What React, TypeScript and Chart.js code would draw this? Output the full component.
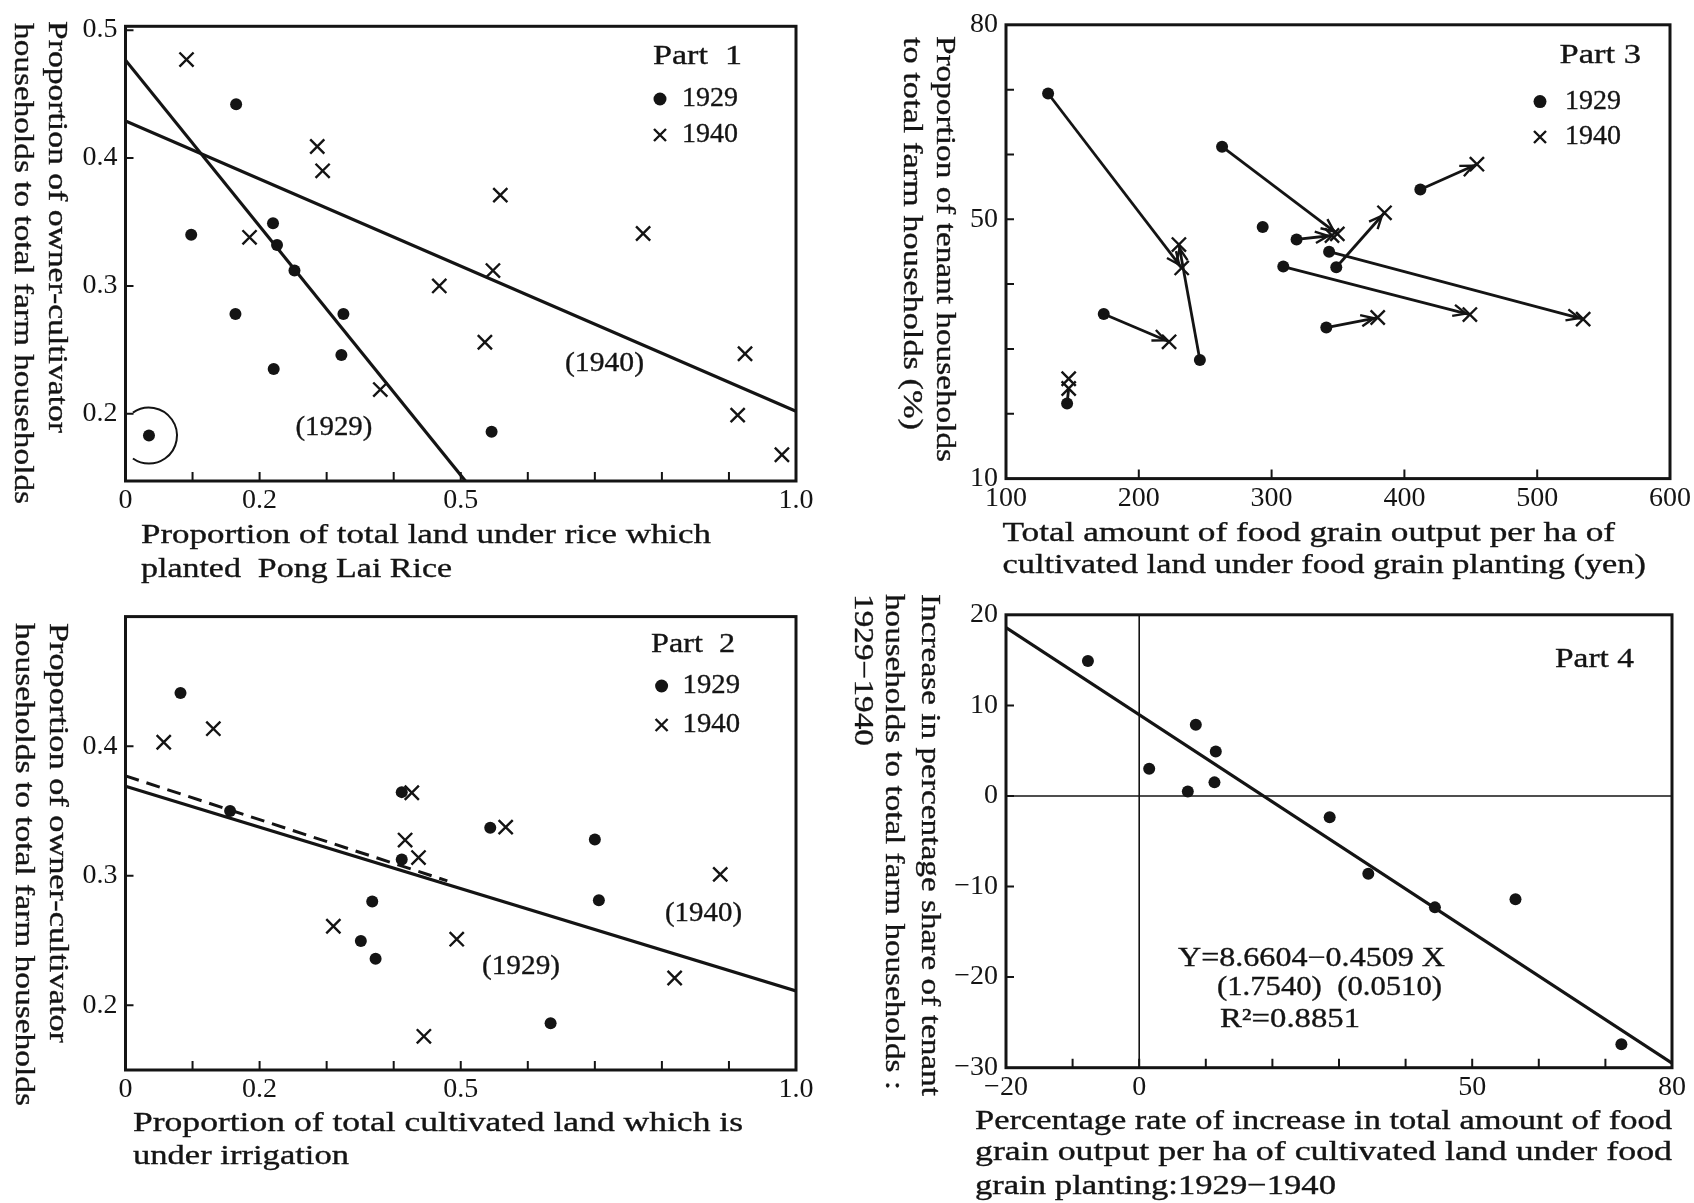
import React, { useEffect, useRef } from 'react';
import { Chart, registerables } from 'chart.js';

Chart.register(...registerables);

// ---------------- Part 1 data ----------------
const p1X1929 = [0.035, 0.098, 0.165, 0.164, 0.220, 0.226, 0.252, 0.325, 0.322, 0.221, 0.546];
const p1Y1929 = [0.183, 0.340, 0.442, 0.278, 0.349, 0.332, 0.312, 0.278, 0.246, 0.235, 0.186];
const p1X1940 = [0.091, 0.286, 0.294, 0.185, 0.559, 0.772, 0.468, 0.548, 0.536, 0.380, 0.924, 0.913, 0.979];
const p1Y1940 = [0.477, 0.409, 0.390, 0.338, 0.371, 0.341, 0.300, 0.312, 0.256, 0.219, 0.247, 0.199, 0.168];
const p1Fit1929X = [0, 0.507];
const p1Fit1929Y = [0.4765, 0.1475];
const p1Fit1940X = [0, 1];
const p1Fit1940Y = [0.429, 0.202];
const p1XTicks = [0, 0.1, 0.2, 0.3, 0.4, 0.5, 0.6, 0.7, 0.8, 0.9, 1.0];
const p1XLabels = ['0', '', '0.2', '', '', '0.5', '', '', '', '', '1.0'];
const p1YTicks = [0.2, 0.3, 0.4, 0.5];
const p1YLabels = ['0.2', '0.3', '0.4', '0.5'];

// ---------------- Part 2 data ----------------
const p2X1929 = [0.082, 0.156, 0.412, 0.412, 0.368, 0.351, 0.373, 0.544, 0.700, 0.706, 0.634];
const p2Y1929 = [0.441, 0.350, 0.3645, 0.3125, 0.280, 0.2496, 0.2358, 0.337, 0.328, 0.281, 0.186];
const p2X1940 = [0.057, 0.131, 0.427, 0.417, 0.437, 0.567, 0.310, 0.494, 0.887, 0.819, 0.445];
const p2Y1940 = [0.403, 0.4135, 0.364, 0.3275, 0.314, 0.3375, 0.261, 0.251, 0.301, 0.221, 0.176];
const p2FitSolidX = [0, 1];
const p2FitSolidY = [0.369, 0.211];
const p2FitDashedX = [0, 0.48];
const p2FitDashedY = [0.377, 0.296];
const p2XTicks = [0, 0.1, 0.2, 0.3, 0.4, 0.5, 0.6, 0.7, 0.8, 0.9, 1.0];
const p2XLabels = ['0', '', '0.2', '', '', '0.5', '', '', '', '', '1.0'];
const p2YTicks = [0.2, 0.3, 0.4];
const p2YLabels = ['0.2', '0.3', '0.4'];

// ---------------- Part 3 data ----------------
const p3X1929 = [131.7, 246.0, 262.7, 293.3, 318.8, 343.3, 348.7, 308.8, 341.2, 173.6, 146.0, 412.0];
const p3Y1929 = [69.4, 28.3, 61.2, 48.8, 46.9, 45.0, 42.6, 42.7, 33.3, 35.4, 21.6, 54.6];
const p3X1940 = [232.3, 230.2, 349.5, 345.5, 534.6, 385.0, 449.3, 379.9, 222.8, 147.2, 147.2, 454.6];
const p3Y1940 = [42.5, 46.1, 47.75, 47.5, 34.6, 51.0, 35.3, 34.85, 31.1, 25.4, 23.9, 58.5];
// links: [index in 1929 list, index in 1940 list]
const p3LinkFrom = [0, 1, 2, 4, 5, 6, 7, 8, 9, 10, 11];
const p3LinkTo = [0, 1, 2, 3, 4, 5, 6, 7, 8, 10, 11];
const p3XTicks = [100, 200, 300, 400, 500, 600];
const p3XLabels = ['100', '200', '300', '400', '500', '600'];
const p3YTicks = [10, 20, 30, 40, 50, 60, 70, 80];
const p3YLabels = ['10', '', '', '', '50', '', '', '80'];

// ---------------- Part 4 data ----------------
const p4X = [-7.7, 1.5, 7.3, 8.5, 11.5, 11.3, 28.6, 34.4, 44.4, 56.5, 72.4];
const p4Y = [14.9, 3.0, 0.5, 7.85, 4.9, 1.5, -2.35, -8.6, -12.3, -11.4, -27.4];
const p4FitX = [-20, 80];
const p4FitY = [18.6, -29.5];
const p4ZeroHX = [-20, 80];
const p4ZeroHY = [0, 0];
const p4ZeroVX = [0, 0];
const p4ZeroVY = [-30, 20];
const p4XTicks = [-20, -10, 0, 10, 20, 30, 40, 50, 60, 70, 80];
const p4XLabels = ['\u221220', '', '0', '', '', '', '', '50', '', '', '80'];
const p4YTicks = [-30, -20, -10, 0, 10, 20];
const p4YLabels = ['\u221230', '\u221220', '\u221210', '0', '10', '20'];

// ---------------- styling ----------------
const INK = '#141414';
const FONT = '"Liberation Serif", "Times New Roman", serif';
const Y_AXIS_W = 70;
const X_AXIS_H = 45;

const zip = (xs: number[], ys: number[]) => xs.map((x, i) => ({ x, y: ys[i] }));

const dotSet = (data: any[]) => ({
  data,
  pointStyle: 'circle',
  pointRadius: 6,
  backgroundColor: INK,
  borderColor: INK,
  borderWidth: 0,
  showLine: false,
});
const crossSet = (data: any[]) => ({
  data,
  pointStyle: 'crossRot',
  pointRadius: 10,
  borderColor: INK,
  backgroundColor: INK,
  borderWidth: 2.4,
  showLine: false,
});
const lineSet = (data: any[], width = 3.2, dash: number[] = []) => ({
  data,
  showLine: true,
  pointRadius: 0,
  borderColor: INK,
  backgroundColor: INK,
  borderWidth: width,
  borderDash: dash,
  fill: false,
  tension: 0,
});

function fitText(ctx: CanvasRenderingContext2D, t: string, x0: number, x1: number, y: number, size: number) {
  ctx.save();
  ctx.font = `${size}px ${FONT}`;
  ctx.textBaseline = 'middle';
  ctx.textAlign = 'left';
  ctx.fillStyle = INK;
  ctx.strokeStyle = INK;
  ctx.lineWidth = 0.35;
  const w = ctx.measureText(t).width;
  const s = (x1 - x0) / w;
  ctx.translate(x0, y);
  ctx.scale(s, 1);
  ctx.fillText(t, 0, 0);
  ctx.strokeText(t, 0, 0);
  ctx.restore();
}

function drawCross(ctx: CanvasRenderingContext2D, x: number, y: number, r: number) {
  ctx.beginPath();
  ctx.moveTo(x - r, y - r);
  ctx.lineTo(x + r, y + r);
  ctx.moveTo(x - r, y + r);
  ctx.lineTo(x + r, y - r);
  ctx.stroke();
}

function panelPlugin(p: any) {
  return {
    id: 'panelDecor' + p.id,
    afterDatasetsDraw(chart: any) {
      const ctx: CanvasRenderingContext2D = chart.ctx;
      const xs = chart.scales.x;
      const ys = chart.scales.y;
      ctx.save();
      ctx.strokeStyle = INK;
      ctx.fillStyle = INK;
      if (p.circle) {
        const cx = xs.getPixelForValue(p.circle.x);
        const cy = ys.getPixelForValue(p.circle.y);
        ctx.lineWidth = 2;
        ctx.beginPath();
        ctx.arc(cx, cy, 28, (-125 * Math.PI) / 180, (125 * Math.PI) / 180);
        ctx.stroke();
      }
      if (p.arrows) {
        ctx.lineWidth = 2.4;
        for (const a of p.arrows) {
          const x0 = xs.getPixelForValue(a.from.x);
          const y0 = ys.getPixelForValue(a.from.y);
          const x1 = xs.getPixelForValue(a.to.x);
          const y1 = ys.getPixelForValue(a.to.y);
          const dx = x1 - x0;
          const dy = y1 - y0;
          const len = Math.hypot(dx, dy);
          if (len < 30) continue;
          const ux = dx / len;
          const uy = dy / len;
          const tx = x1 - ux * 4;
          const ty = y1 - uy * 4;
          const L = 14;
          const ang = (24 * Math.PI) / 180;
          ctx.beginPath();
          for (const sgn of [1, -1]) {
            const c = Math.cos(sgn * ang);
            const s = Math.sin(sgn * ang);
            const wx = -(ux * c - uy * s);
            const wy = -(ux * s + uy * c);
            ctx.moveTo(tx, ty);
            ctx.lineTo(tx + wx * L, ty + wy * L);
          }
          ctx.stroke();
        }
      }
      ctx.restore();
    },
    afterDraw(chart: any) {
      const ctx: CanvasRenderingContext2D = chart.ctx;
      const a = chart.chartArea;
      const xs = chart.scales.x;
      const ys = chart.scales.y;
      ctx.save();
      ctx.strokeStyle = INK;
      ctx.fillStyle = INK;
      // inward tick marks
      ctx.lineWidth = 2;
      ctx.beginPath();
      for (const v of p.xTicks) {
        const px = xs.getPixelForValue(v);
        if (Math.abs(px - a.left) < 3 || Math.abs(px - a.right) < 3) continue;
        ctx.moveTo(px, a.bottom);
        ctx.lineTo(px, a.bottom - 9);
      }
      for (const v of p.yTicks) {
        const py = ys.getPixelForValue(v);
        if (Math.abs(py - a.top) < 3 || Math.abs(py - a.bottom) < 3) continue;
        ctx.moveTo(a.left, py);
        ctx.lineTo(a.left + 8, py);
      }
      ctx.stroke();
      // frame
      ctx.lineWidth = 3;
      ctx.strokeRect(a.left, a.top, a.right - a.left, a.bottom - a.top);
      // texts
      for (const t of p.texts) {
        if (t.rot) {
          ctx.save();
          ctx.translate(t.cx - p.ox, t.y0 - p.oy);
          ctx.rotate(Math.PI / 2);
          fitText(ctx, t.t, 0, t.y1 - t.y0, 0, t.size || 28);
          ctx.restore();
        } else {
          fitText(ctx, t.t, t.x0 - p.ox, t.x1 - p.ox, t.y - p.oy, t.size || 28);
        }
      }
      // legend marks
      if (p.legendDot) {
        ctx.beginPath();
        ctx.arc(p.legendDot[0] - p.ox, p.legendDot[1] - p.oy, 6.5, 0, Math.PI * 2);
        ctx.fill();
      }
      if (p.legendCross) {
        ctx.lineWidth = 2.4;
        drawCross(ctx, p.legendCross[0] - p.ox, p.legendCross[1] - p.oy, 6);
      }
      ctx.restore();
    },
  };
}

function axisOpts(ticks: number[], labels: string[], min: number, max: number, dir: 'x' | 'y') {
  return {
    type: 'linear',
    min,
    max,
    position: dir === 'x' ? 'bottom' : 'left',
    grid: { display: false, drawTicks: false },
    border: { display: false },
    afterBuildTicks: (s: any) => {
      s.ticks = ticks.map((v) => ({ value: v }));
    },
    afterFit: (s: any) => {
      if (dir === 'x') s.height = X_AXIS_H;
      else s.width = Y_AXIS_W;
    },
    ticks: {
      autoSkip: false,
      maxRotation: 0,
      minRotation: 0,
      padding: dir === 'x' ? 3 : 8,
      color: INK,
      font: { family: FONT, size: 28 },
      callback: (_v: any, i: number) => labels[i],
    },
  };
}

const p1Dots = zip(p1X1929, p1Y1929);
const p3Dots = zip(p3X1929, p3Y1929);
const p3Crosses = zip(p3X1940, p3Y1940);
const p3Arrows = p3LinkFrom.map((f, i) => ({ from: p3Dots[f], to: p3Crosses[p3LinkTo[i]] }));

const PANELS: any[] = [
  {
    id: 1,
    ox: 0, oy: 0, w: 847, h: 590,
    plot: { L: 125.5, T: 26.3, R: 796, B: 481 },
    x: axisOpts(p1XTicks, p1XLabels, 0, 1, 'x'),
    y: axisOpts(p1YTicks, p1YLabels, 0.1475, 0.503, 'y'),
    xTicks: p1XTicks, yTicks: p1YTicks,
    datasets: [
      lineSet(zip(p1Fit1929X, p1Fit1929Y)),
      lineSet(zip(p1Fit1940X, p1Fit1940Y)),
      dotSet(p1Dots),
      crossSet(zip(p1X1940, p1Y1940)),
    ],
    circle: p1Dots[0],
    legendDot: [660, 99],
    legendCross: [660, 135],
    texts: [
      { rot: true, t: 'Proportion of owner-cultivator', cx: 56.5, y0: 21, y1: 433 },
      { rot: true, t: 'households to total farm households', cx: 22, y0: 23, y1: 504 },
      { t: 'Proportion of total land under rice which', x0: 141, x1: 711, y: 536 },
      { t: 'planted  Pong Lai Rice', x0: 141, x1: 452, y: 570 },
      { t: 'Part  1', x0: 653, x1: 742, y: 57 },
      { t: '1929', x0: 682, x1: 738, y: 99 },
      { t: '1940', x0: 682, x1: 738, y: 135 },
      { t: '(1929)', x0: 295.5, x1: 372.4, y: 428 },
      { t: '(1940)', x0: 565, x1: 644, y: 364 },
    ],
  },
  {
    id: 2,
    ox: 0, oy: 590, w: 847, h: 613,
    plot: { L: 125.5, T: 616.6, R: 796, B: 1070 },
    x: axisOpts(p2XTicks, p2XLabels, 0, 1, 'x'),
    y: axisOpts(p2YTicks, p2YLabels, 0.15, 0.5, 'y'),
    xTicks: p2XTicks, yTicks: p2YTicks,
    datasets: [
      lineSet(zip(p2FitSolidX, p2FitSolidY)),
      lineSet(zip(p2FitDashedX, p2FitDashedY), 3, [14, 8]),
      dotSet(zip(p2X1929, p2Y1929)),
      crossSet(zip(p2X1940, p2Y1940)),
    ],
    legendDot: [661.6, 686],
    legendCross: [661.6, 725],
    texts: [
      { rot: true, t: 'Proportion of owner-cultivator', cx: 57.5, y0: 623, y1: 1043 },
      { rot: true, t: 'households to total farm households', cx: 23.5, y0: 623, y1: 1106 },
      { t: 'Proportion of total cultivated land which is', x0: 133, x1: 743, y: 1124 },
      { t: 'under irrigation', x0: 133, x1: 349, y: 1157 },
      { t: 'Part  2', x0: 651, x1: 735, y: 645 },
      { t: '1929', x0: 682.5, x1: 740, y: 686 },
      { t: '1940', x0: 682.5, x1: 740, y: 725 },
      { t: '(1929)', x0: 482, x1: 560, y: 967 },
      { t: '(1940)', x0: 665, x1: 742, y: 914 },
    ],
  },
  {
    id: 3,
    ox: 847, oy: 0, w: 847, h: 590,
    plot: { L: 1006, T: 22.6, R: 1674, B: 478.6 },
    x: axisOpts(p3XTicks, p3XLabels, 100, 600, 'x'),
    y: axisOpts(p3YTicks, p3YLabels, 10, 80, 'y'),
    xTicks: p3XTicks, yTicks: p3YTicks,
    datasets: [
      ...p3Arrows.map((a) => lineSet([a.from, a.to], 2.8)),
      dotSet(p3Dots),
      crossSet(p3Crosses),
    ],
    arrows: p3Arrows,
    legendDot: [1540, 101.6],
    legendCross: [1540, 137],
    texts: [
      { rot: true, t: 'Proportion of tenant households', cx: 944, y0: 36, y1: 462 },
      { rot: true, t: 'to total farm households (%)', cx: 911, y0: 37, y1: 430 },
      { t: 'Total amount of food grain output per ha of', x0: 1002.5, x1: 1615, y: 534 },
      { t: 'cultivated land under food grain planting (yen)', x0: 1002.5, x1: 1646, y: 566 },
      { t: 'Part 3', x0: 1559.5, x1: 1641, y: 56 },
      { t: '1929', x0: 1565, x1: 1621, y: 101.6 },
      { t: '1940', x0: 1565, x1: 1621, y: 137 },
    ],
  },
  {
    id: 4,
    ox: 847, oy: 590, w: 847, h: 613,
    plot: { L: 1006, T: 614.6, R: 1672, B: 1067.7 },
    x: axisOpts(p4XTicks, p4XLabels, -20, 80, 'x'),
    y: axisOpts(p4YTicks, p4YLabels, -30, 20, 'y'),
    xTicks: p4XTicks, yTicks: p4YTicks,
    datasets: [
      lineSet(zip(p4ZeroHX, p4ZeroHY), 1.6),
      lineSet(zip(p4ZeroVX, p4ZeroVY), 1.6),
      lineSet(zip(p4FitX, p4FitY), 3.2),
      dotSet(zip(p4X, p4Y)),
    ],
    texts: [
      { rot: true, t: 'Increase in percentage share of tenant', cx: 929, y0: 594, y1: 1096 },
      { rot: true, t: 'households to total farm households :', cx: 893, y0: 594, y1: 1090 },
      { rot: true, t: '1929\u22121940', cx: 862, y0: 594, y1: 746 },
      { t: 'Percentage rate of increase in total amount of food', x0: 975, x1: 1672, y: 1122 },
      { t: 'grain output per ha of cultivated land under food', x0: 975, x1: 1672, y: 1153 },
      { t: 'grain planting:1929\u22121940', x0: 975, x1: 1336, y: 1187 },
      { t: 'Part 4', x0: 1555, x1: 1634, y: 660 },
      { t: 'Y=8.6604\u22120.4509 X', x0: 1178, x1: 1445, y: 959, size: 27 },
      { t: '(1.7540)  (0.0510)', x0: 1217, x1: 1442, y: 988, size: 27 },
      { t: 'R\u00b2=0.8851', x0: 1220, x1: 1360, y: 1020, size: 27 },
    ],
  },
];

function buildConfig(p: any): any {
  return {
    type: 'scatter',
    data: { datasets: p.datasets },
    options: {
      animation: false,
      responsive: false,
      maintainAspectRatio: false,
      devicePixelRatio: 1,
      events: [],
      layout: {
        padding: {
          left: p.plot.L - p.ox - Y_AXIS_W,
          top: p.plot.T - p.oy,
          right: p.ox + p.w - p.plot.R,
          bottom: p.oy + p.h - p.plot.B - X_AXIS_H,
        },
      },
      plugins: { legend: { display: false }, tooltip: { enabled: false }, title: { display: false } },
      scales: { x: p.x, y: p.y },
    },
    plugins: [panelPlugin(p)],
  };
}

function Panel({ spec }: { spec: any }) {
  const ref = useRef<HTMLCanvasElement | null>(null);
  useEffect(() => {
    if (!ref.current) return;
    const chart = new Chart(ref.current, buildConfig(spec));
    return () => chart.destroy();
  }, [spec]);
  return (
    <canvas
      ref={ref}
      width={spec.w}
      height={spec.h}
      style={{ position: 'absolute', left: spec.ox, top: spec.oy, width: spec.w, height: spec.h }}
    />
  );
}

export default function App() {
  return (
    <div style={{ position: 'absolute', left: 0, top: 0, width: 1694, height: 1203, background: '#ffffff', overflow: 'hidden' }}>
      {PANELS.map((p) => (
        <Panel key={p.id} spec={p} />
      ))}
    </div>
  );
}
